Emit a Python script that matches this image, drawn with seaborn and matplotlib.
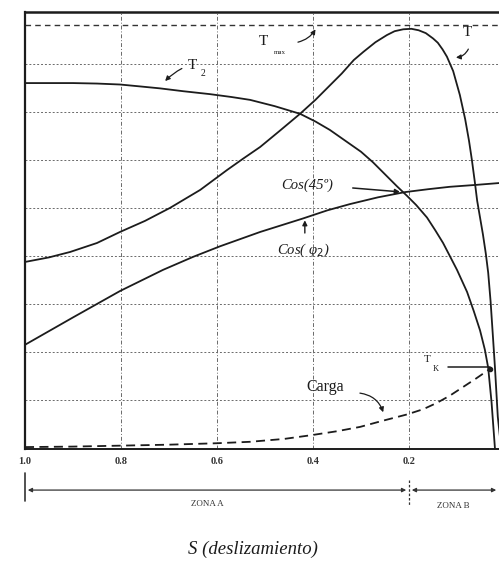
import numpy as np
import pandas as pd
import matplotlib
matplotlib.use("Agg")
import matplotlib.pyplot as plt
import seaborn as sns
from matplotlib.transforms import blended_transform_factory

# ---- data (slip s, value in grid units) ----
t_s = [1.000, 0.950, 0.906, 0.850, 0.802, 0.750, 0.698, 0.635, 0.579, 0.545,
       0.510, 0.470, 0.427, 0.395, 0.365, 0.340, 0.315, 0.295, 0.270, 0.246,
       0.230, 0.212, 0.195, 0.180, 0.165, 0.150, 0.140, 0.130, 0.121, 0.108,
       0.094, 0.083, 0.075, 0.069, 0.063, 0.058, 0.052, 0.046, 0.040, 0.035,
       0.030, 0.025, 0.021, 0.015, 0.008]
t_v = [3.875, 3.97, 4.083, 4.27, 4.50, 4.73, 5.00, 5.375, 5.79, 6.03,
       6.27, 6.60, 6.96, 7.25, 7.55, 7.80, 8.08, 8.25, 8.45, 8.60,
       8.68, 8.72, 8.73, 8.70, 8.64, 8.53, 8.44, 8.30, 8.15, 7.85,
       7.35, 6.85, 6.40, 6.00, 5.55, 5.15, 4.80, 4.45, 4.05, 3.65,
       3.05, 2.30, 1.69, 0.65, 0.0]

t2_s = [1.000, 0.900, 0.850, 0.802, 0.760, 0.719, 0.670, 0.615, 0.570, 0.531,
        0.480, 0.427, 0.395, 0.365, 0.330, 0.300, 0.275, 0.250, 0.225, 0.204,
        0.185, 0.1625, 0.145, 0.129, 0.115, 0.100, 0.079, 0.065, 0.052, 0.042,
        0.035, 0.028, 0.021]
t2_v = [7.60, 7.60, 7.59, 7.57, 7.53, 7.49, 7.43, 7.37, 7.31, 7.25,
        7.12, 6.96, 6.80, 6.625, 6.38, 6.17, 5.95, 5.70, 5.45, 5.25,
        5.06, 4.80, 4.53, 4.27, 4.00, 3.71, 3.25, 2.85, 2.45, 2.05,
        1.67, 0.95, 0.0]

cos_s = [1.000, 0.900, 0.802, 0.7125, 0.650, 0.594, 0.510, 0.421, 0.370, 0.323,
         0.265, 0.208, 0.160, 0.115, 0.060, 0.010]
cos_v = [2.15, 2.72, 3.27, 3.71, 3.98, 4.20, 4.50, 4.78, 4.95, 5.08,
         5.22, 5.33, 5.39, 5.44, 5.48, 5.52]

carga_s = [1.000, 0.900, 0.800, 0.700, 0.600, 0.531, 0.460, 0.402, 0.350, 0.302,
           0.254, 0.204, 0.170, 0.142, 0.115, 0.0875, 0.060, 0.031]
carga_v = [0.02, 0.03, 0.05, 0.07, 0.10, 0.13, 0.19, 0.27, 0.35, 0.44,
           0.57, 0.70, 0.81, 0.94, 1.09, 1.27, 1.45, 1.65]

tmax_level = 8.80
tk_level = 1.69
tk_span = [0.119, 0.031]

tick_vals = [1.0, 0.8, 0.6, 0.4, 0.2]
tick_labels = ["1.0", "0.8", "0.6", "0.4", "0.2"]
grid_levels = [1, 2, 3, 4, 5, 6, 7, 8]
zone_split = 0.2

sns.set_theme(style="white")
plt.rcParams['font.family'] = ['Liberation Serif', 'DejaVu Serif']

fig = plt.figure(figsize=(4.99, 5.61), dpi=100)
ax = fig.add_axes([25 / 499, 1 - 449 / 561, 474 / 499, (449 - 12) / 561])

ink = '#1c1c1c'
grid_c = '#6a6a6a'

# grid
for g in grid_levels:
    ax.axhline(g, ls=(0, (2, 2)), color=grid_c, lw=0.7, zorder=1)
for tv in tick_vals[1:]:
    ax.axvline(tv, ls=(0, (4, 2, 1, 2)), color=grid_c, lw=0.7, zorder=1)
ax.axhline(tmax_level, ls=(0, (4, 3)), color='#333333', lw=1.0, zorder=1)

curves = {
    "T": (t_s, t_v),
    "T2": (t2_s, t2_v),
    "Cos": (cos_s, cos_v),
}
for name, (xs, ys) in curves.items():
    df = pd.DataFrame({"s": xs, "v": ys})
    sns.lineplot(data=df, x="s", y="v", sort=False, estimator=None, ax=ax,
                 color=ink, lw=1.3, zorder=3)
dfc = pd.DataFrame({"s": carga_s, "v": carga_v})
sns.lineplot(data=dfc, x="s", y="v", sort=False, estimator=None, ax=ax,
             color=ink, lw=1.3, ls=(0, (5, 3)), zorder=3)

# Tk horizontal marker
ax.plot(tk_span, [tk_level, tk_level], color=ink, lw=1.1, zorder=3)
ax.plot([carga_s[-1]], [carga_v[-1]], 'o', color=ink, ms=3, zorder=4)

ax.set_xlim(1.0, 0.0125)
ax.set_ylim(-0.02, 9.08)
ax.set_xlabel("")
ax.set_ylabel("")
ax.set_yticks([])
ax.set_xticks(tick_vals)
ax.set_xticklabels(tick_labels, fontsize=7.5, fontweight='bold', color='#333333')
ax.tick_params(axis='x', length=0, pad=6)

for side in ['left', 'top', 'bottom']:
    ax.spines[side].set_visible(True)
    ax.spines[side].set_color(ink)
ax.spines['left'].set_linewidth(1.6)
ax.spines['top'].set_linewidth(1.8)
ax.spines['bottom'].set_linewidth(1.4)
ax.spines['right'].set_visible(False)

# labels and arrows
arr = dict(arrowstyle='-|>', color=ink, lw=0.9, mutation_scale=7)
ax.text(0.504, 8.46, "T", fontsize=11, ha='center', va='center', color=ink)
ax.text(0.468, 8.24, "max", fontsize=5, ha='center', va='center', color=ink)
ax.annotate("", xy=(0.392, 8.77), xytext=(0.437, 8.44),
            arrowprops=dict(arr, connectionstyle="arc3,rad=0.25"))

ax.text(0.079, 8.65, "T", fontsize=11, ha='center', va='center', color=ink)
ax.annotate("", xy=(0.108, 8.13), xytext=(0.074, 8.36),
            arrowprops=dict(arr, connectionstyle="arc3,rad=-0.35"))

ax.text(0.652, 7.96, "T", fontsize=11, ha='center', va='center', color=ink)
ax.text(0.630, 7.80, "2", fontsize=7, ha='center', va='center', color=ink)
ax.annotate("", xy=(0.712, 7.60), xytext=(0.668, 7.93),
            arrowprops=dict(arr, connectionstyle="arc3,rad=0.1"))

ax.text(0.4125, 5.48, "Cos(45º)", fontsize=10.5, style='italic',
        ha='center', va='center', color=ink)
ax.annotate("", xy=(0.213, 5.33), xytext=(0.323, 5.42),
            arrowprops=dict(arr, lw=1.1))

ax.text(0.419, 4.12, "Cos( φ$_2$)", fontsize=10.5, style='italic',
        ha='center', va='center', color=ink)
ax.annotate("", xy=(0.417, 4.80), xytext=(0.417, 4.42),
            arrowprops=dict(arr, lw=1.0))

ax.text(0.375, 1.27, "Carga", fontsize=11.5, ha='center', va='center', color=ink)
ax.annotate("", xy=(0.252, 0.69), xytext=(0.308, 1.15),
            arrowprops=dict(arr, connectionstyle="arc3,rad=-0.35"))

ax.text(0.1625, 1.85, "T", fontsize=8, ha='center', va='center', color=ink)
ax.text(0.144, 1.64, "K", fontsize=6, ha='center', va='center', color=ink)

# zone annotation below axis
trans = blended_transform_factory(ax.transData, ax.transAxes)
yz = -0.094
ax.annotate("", xy=(1.0, yz), xytext=(zone_split, yz), xycoords=trans, textcoords=trans,
            arrowprops=dict(arrowstyle='<|-|>', color='#333333', lw=0.9, mutation_scale=6),
            annotation_clip=False)
ax.annotate("", xy=(zone_split, yz), xytext=(0.0125, yz), xycoords=trans, textcoords=trans,
            arrowprops=dict(arrowstyle='<|-|>', color='#333333', lw=0.9, mutation_scale=6),
            annotation_clip=False)
ax.plot([1.0, 1.0], [-0.055, -0.118], transform=trans, clip_on=False, color='#333333', lw=1.2)
ax.plot([zone_split, zone_split], [-0.07, -0.13], transform=trans, clip_on=False,
        color='#333333', lw=0.9, ls=(0, (2, 1.5)))
ax.text(0.621, -0.125, "ZONA A", transform=trans, fontsize=6.5, ha='center', va='center',
        color='#333333')
ax.text(0.108, -0.131, "ZONA B", transform=trans, fontsize=6.5, ha='center', va='center',
        color='#333333')

fig.text(0.507, 1 - 549 / 561, "S (deslizamiento)", fontsize=13.5, style='italic',
         ha='center', va='center', color=ink)

fig.savefig("out.png", dpi=100)
